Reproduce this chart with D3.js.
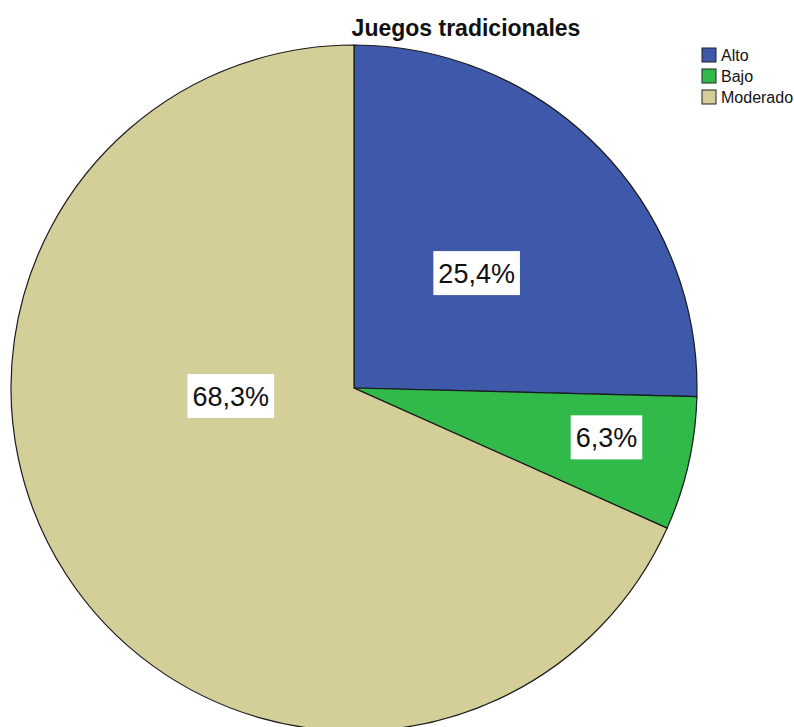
<!DOCTYPE html>
<html>
<head>
<meta charset="utf-8">
<script src="https://cdn.jsdelivr.net/npm/d3@7"></script>
<style>
  body { margin: 0; background: #fff; }
  svg { font-family: "Liberation Sans", Arial, sans-serif; }
</style>
</head>
<body>
<script>
const categories = ["Alto", "Bajo", "Moderado"];
const values = [25.4, 6.3, 68.3];
const labels = ["25,4%", "6,3%", "68,3%"];
const colors = ["#3e58aa", "#31b94a", "#d4ce99"];

window.onload = () => {
    const width = 794, height = 727;
    const cx = 354, cy = 388, radius = 343;

    const svg = d3.select("body").append("svg")
        .attr("width", width)
        .attr("height", height);

    const pie = d3.pie().sort(null).value(d => d)(values);
    const arc = d3.arc().innerRadius(0).outerRadius(radius);

    const g = svg.append("g")
        .attr("transform", "translate(" + cx + "," + cy + ")");

    g.selectAll("path")
        .data(pie)
        .enter()
        .append("path")
        .attr("d", arc)
        .attr("fill", (d, i) => colors[i])
        .attr("stroke", "#1a1a1a")
        .attr("stroke-width", 1.2);

    // label radius fraction and angle tweak per slice (SPSS puts them a bit off the centroid)
    const labelPos = [
        {r: 0.49, da: 0.02},
        {r: 0.75, da: -0.03},
        {r: 0.36, da: 0.51}
    ];

    pie.forEach((d, i) => {
        const a = (d.startAngle + d.endAngle) / 2 + labelPos[i].da;
        const rr = radius * labelPos[i].r;
        const x = Math.sin(a) * rr, y = -Math.cos(a) * rr;
        const lg = g.append("g").attr("transform", "translate(" + x + "," + y + ")");
        const t = lg.append("text")
            .attr("text-anchor", "middle")
            .attr("dy", "0.36em")
            .style("font-size", "27px")
            .attr("fill", "#111")
            .text(labels[i]);
        const bb = t.node().getBBox();
        lg.insert("rect", "text")
            .attr("x", bb.x - 5)
            .attr("y", -22)
            .attr("width", bb.width + 10)
            .attr("height", 44)
            .attr("fill", "#fff");
    });

    svg.append("text")
        .attr("x", 466)
        .attr("y", 36)
        .attr("text-anchor", "middle")
        .style("font-size", "23px")
        .style("font-weight", "bold")
        .attr("fill", "#111")
        .text("Juegos tradicionales");

    const legend = svg.append("g").attr("transform", "translate(702,48)");
    categories.forEach((c, i) => {
        legend.append("rect")
            .attr("x", 0)
            .attr("y", i * 21)
            .attr("width", 14)
            .attr("height", 14)
            .attr("fill", colors[i])
            .attr("stroke", "#222")
            .attr("stroke-width", 1);
        legend.append("text")
            .attr("x", 19)
            .attr("y", i * 21 + 13)
            .style("font-size", "16px")
            .attr("fill", "#111")
            .text(c);
    });
};
</script>
</body>
</html>
